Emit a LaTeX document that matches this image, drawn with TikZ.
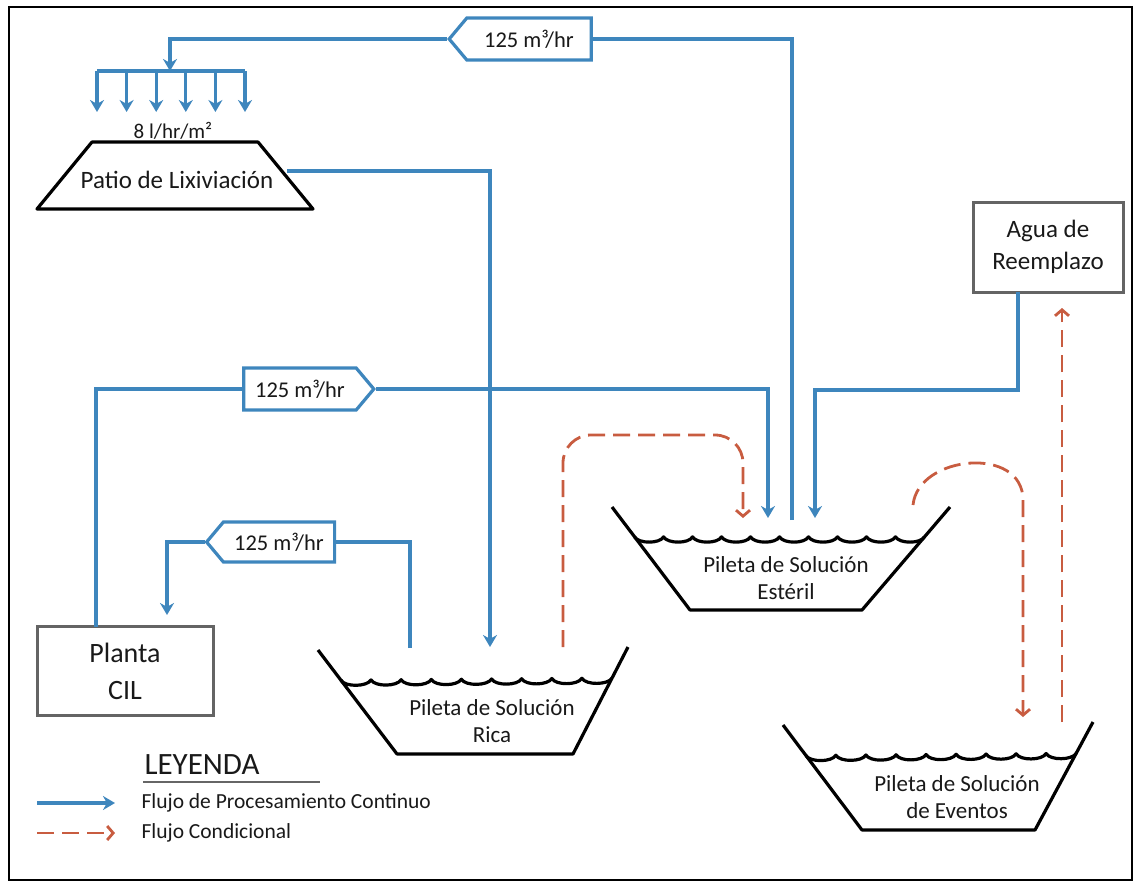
\documentclass[tikz,border=0pt]{standalone}
\usepackage{fontspec}
\setmainfont{Carlito}
\usetikzlibrary{arrows.meta,calc,shapes.symbols}
\definecolor{flowblue}{RGB}{62,134,189}
\definecolor{condred}{RGB}{200,92,64}
\definecolor{boxgray}{RGB}{100,100,100}
\definecolor{inktext}{RGB}{25,25,25}

\tikzset{
  flow/.style={draw=flowblue, line width=3.2pt},
  flowarrow/.style={flow, -{Stealth[length=12pt,width=14pt]}},
  condflow/.style={draw=condred, line width=2.8pt, dash pattern=on 17pt off 8pt,
    -{Straight Barb[length=6pt,width=14pt]}},
  ratelabel/.style={signal, draw=flowblue, line width=3.2pt, fill=white, text=inktext,
    minimum height=42pt, inner sep=2pt, signal pointer angle=100,
    font=\fontsize{22.5}{26}\selectfont},
  unitbox/.style={draw=boxgray, line width=3pt, align=center, text=inktext},
  pond/.style={draw=black, line width=3.2pt, line join=round},
  pondtext/.style={align=center, text=inktext, font=\fontsize{23}{27}\selectfont},
  legendtext/.style={anchor=west, text=inktext, font=\fontsize{21.5}{25}\selectfont}
}

% pileta: name, top left, top right, bottom left, bottom right, waves
\newcommand{\pileta}[6]{%
  \coordinate (#1-tl) at #2; \coordinate (#1-tr) at #3;
  \coordinate (#1-bl) at #4; \coordinate (#1-br) at #5;
  \coordinate (#1-wl) at ($(#1-tl)!0.29!(#1-bl)$);
  \coordinate (#1-wr) at ($(#1-tr)!0.29!(#1-br)$);
  \draw[pond] (#1-tl) -- (#1-bl) -- (#1-br) -- (#1-tr);
  \draw[pond] (#1-wl) \foreach \k in {1,...,#6}{
    .. controls +(4,7) and +(-4,7) .. ($(#1-wl)!\k/#6!(#1-wr)$)};
}

\begin{document}
\begin{tikzpicture}[x=1pt,y=-1pt]
\useasboundingbox (0,0) rectangle (1135,884);
\draw[line width=2.8pt] (9,7) rectangle (1132,880);

% patio de lixiviacion
\draw[pond] (92,142) -- (258,142) -- (313,209) -- (37,209) -- cycle;
\node[text=inktext, font=\fontsize{25}{30}\selectfont] (patio) at (177,180) {Patio de Lixiviación};
\node[text=inktext, font=\fontsize{21}{25}\selectfont] (riego) at (173,131) {8 l/hr/m²};
\coordinate (patio-e) at (287,171);

% riego
\coordinate (bar) at (170,71);
\draw[flow] (97,71) -- (245,71);
\foreach \i in {0,...,5}
  \draw[flowarrow] (97+29.6*\i,71) -- ++(0,41);

% piletas
\pileta{rica}{(318,650)}{(628,647)}{(397,754)}{(573,754)}{9}
\pileta{esteril}{(612,507)}{(950,507)}{(690,610)}{(862,610)}{10}
\pileta{eventos}{(783,725)}{(1093,722)}{(862,830)}{(1035,830)}{9}
\node[pondtext] (rica) at (492,721) {Pileta de Solución\\Rica};
\node[pondtext] (esteril) at (786,578) {Pileta de Solución\\Estéril};
\node[pondtext] (eventos) at (957,797) {Pileta de Solución\\de Eventos};

% cajas
\node[unitbox, minimum width=176pt, minimum height=89pt,
  font=\fontsize{28}{37}\selectfont] (cil) at (125,671) {Planta\\CIL};
\node[unitbox, minimum width=150pt, minimum height=90pt,
  font=\fontsize{25}{32}\selectfont] (agua) at (1048,247) {Agua de\\Reemplazo};

% caudales
\node[ratelabel, signal to=west, minimum width=142pt] (q-top) at (529,39) {125 m³/hr};
\node[ratelabel, signal to=east, minimum width=130pt] (q-mid) at (300,389) {125 m³/hr};
\node[ratelabel, signal to=west, minimum width=128pt, minimum height=40pt] (q-low) at (279,542) {125 m³/hr};

\coordinate (est-out) at (792,520);
\coordinate (est-in1) at (768,518);
\coordinate (est-in2) at (815,518);
\coordinate (est-in3) at (743,518);
\coordinate (est-cond) at (913,505);
\coordinate (rica-in) at (490,647);
\coordinate (rica-out) at (410,648);
\coordinate (rica-cond) at (563,647);
\coordinate (cil-in) at (167,615);
\coordinate (cil-out) at (96,627);
\coordinate (ev-in) at (1023,717);
\coordinate (ev-out) at (1062,722);
\coordinate (agua-in) at (1062,308);
\coordinate (agua-out) at (1018,292);

% flujo continuo
\draw[flow] (est-out) |- (q-top.east);
\draw[flowarrow] (q-top.west) -| (bar);
\draw[flowarrow] (patio-e) -| (rica-in);
\draw[flow] (cil-out) |- (q-mid.west);
\draw[flowarrow] (q-mid.east) -| (est-in1);
\draw[flow] (rica-out) |- (q-low.east);
\draw[flowarrow] (q-low.west) -| (cil-in);
\draw[flowarrow] (agua-out) -- ++(0,98) -| (est-in2);

% flujo condicional
\draw[condflow, rounded corners=28pt] (rica-cond) -- ++(0,-212) -| (est-in3);
\draw[condflow] (est-cond) .. controls (918,455) and (1023,445) .. (1023,500) -- (ev-in);
\draw[condflow] (ev-out) -- (agua-in);

% leyenda
\node[text=inktext, font=\fontsize{31}{36}\selectfont] (ley) at (202,765) {LEYENDA};
\draw[line width=1.6pt, black!60] (143,782) -- (320,782);
\coordinate (lg1a) at (37,803); \coordinate (lg1b) at (115,803);
\coordinate (lg2a) at (37,833); \coordinate (lg2b) at (115,833);
\draw[flowarrow] (lg1a) -- (lg1b);
\draw[condflow] (lg2a) -- (lg2b);
\node[legendtext] (lg1) at (138,803) {Flujo de Procesamiento Continuo};
\node[legendtext] (lg2) at (138,833) {Flujo Condicional};
\end{tikzpicture}
\end{document}
